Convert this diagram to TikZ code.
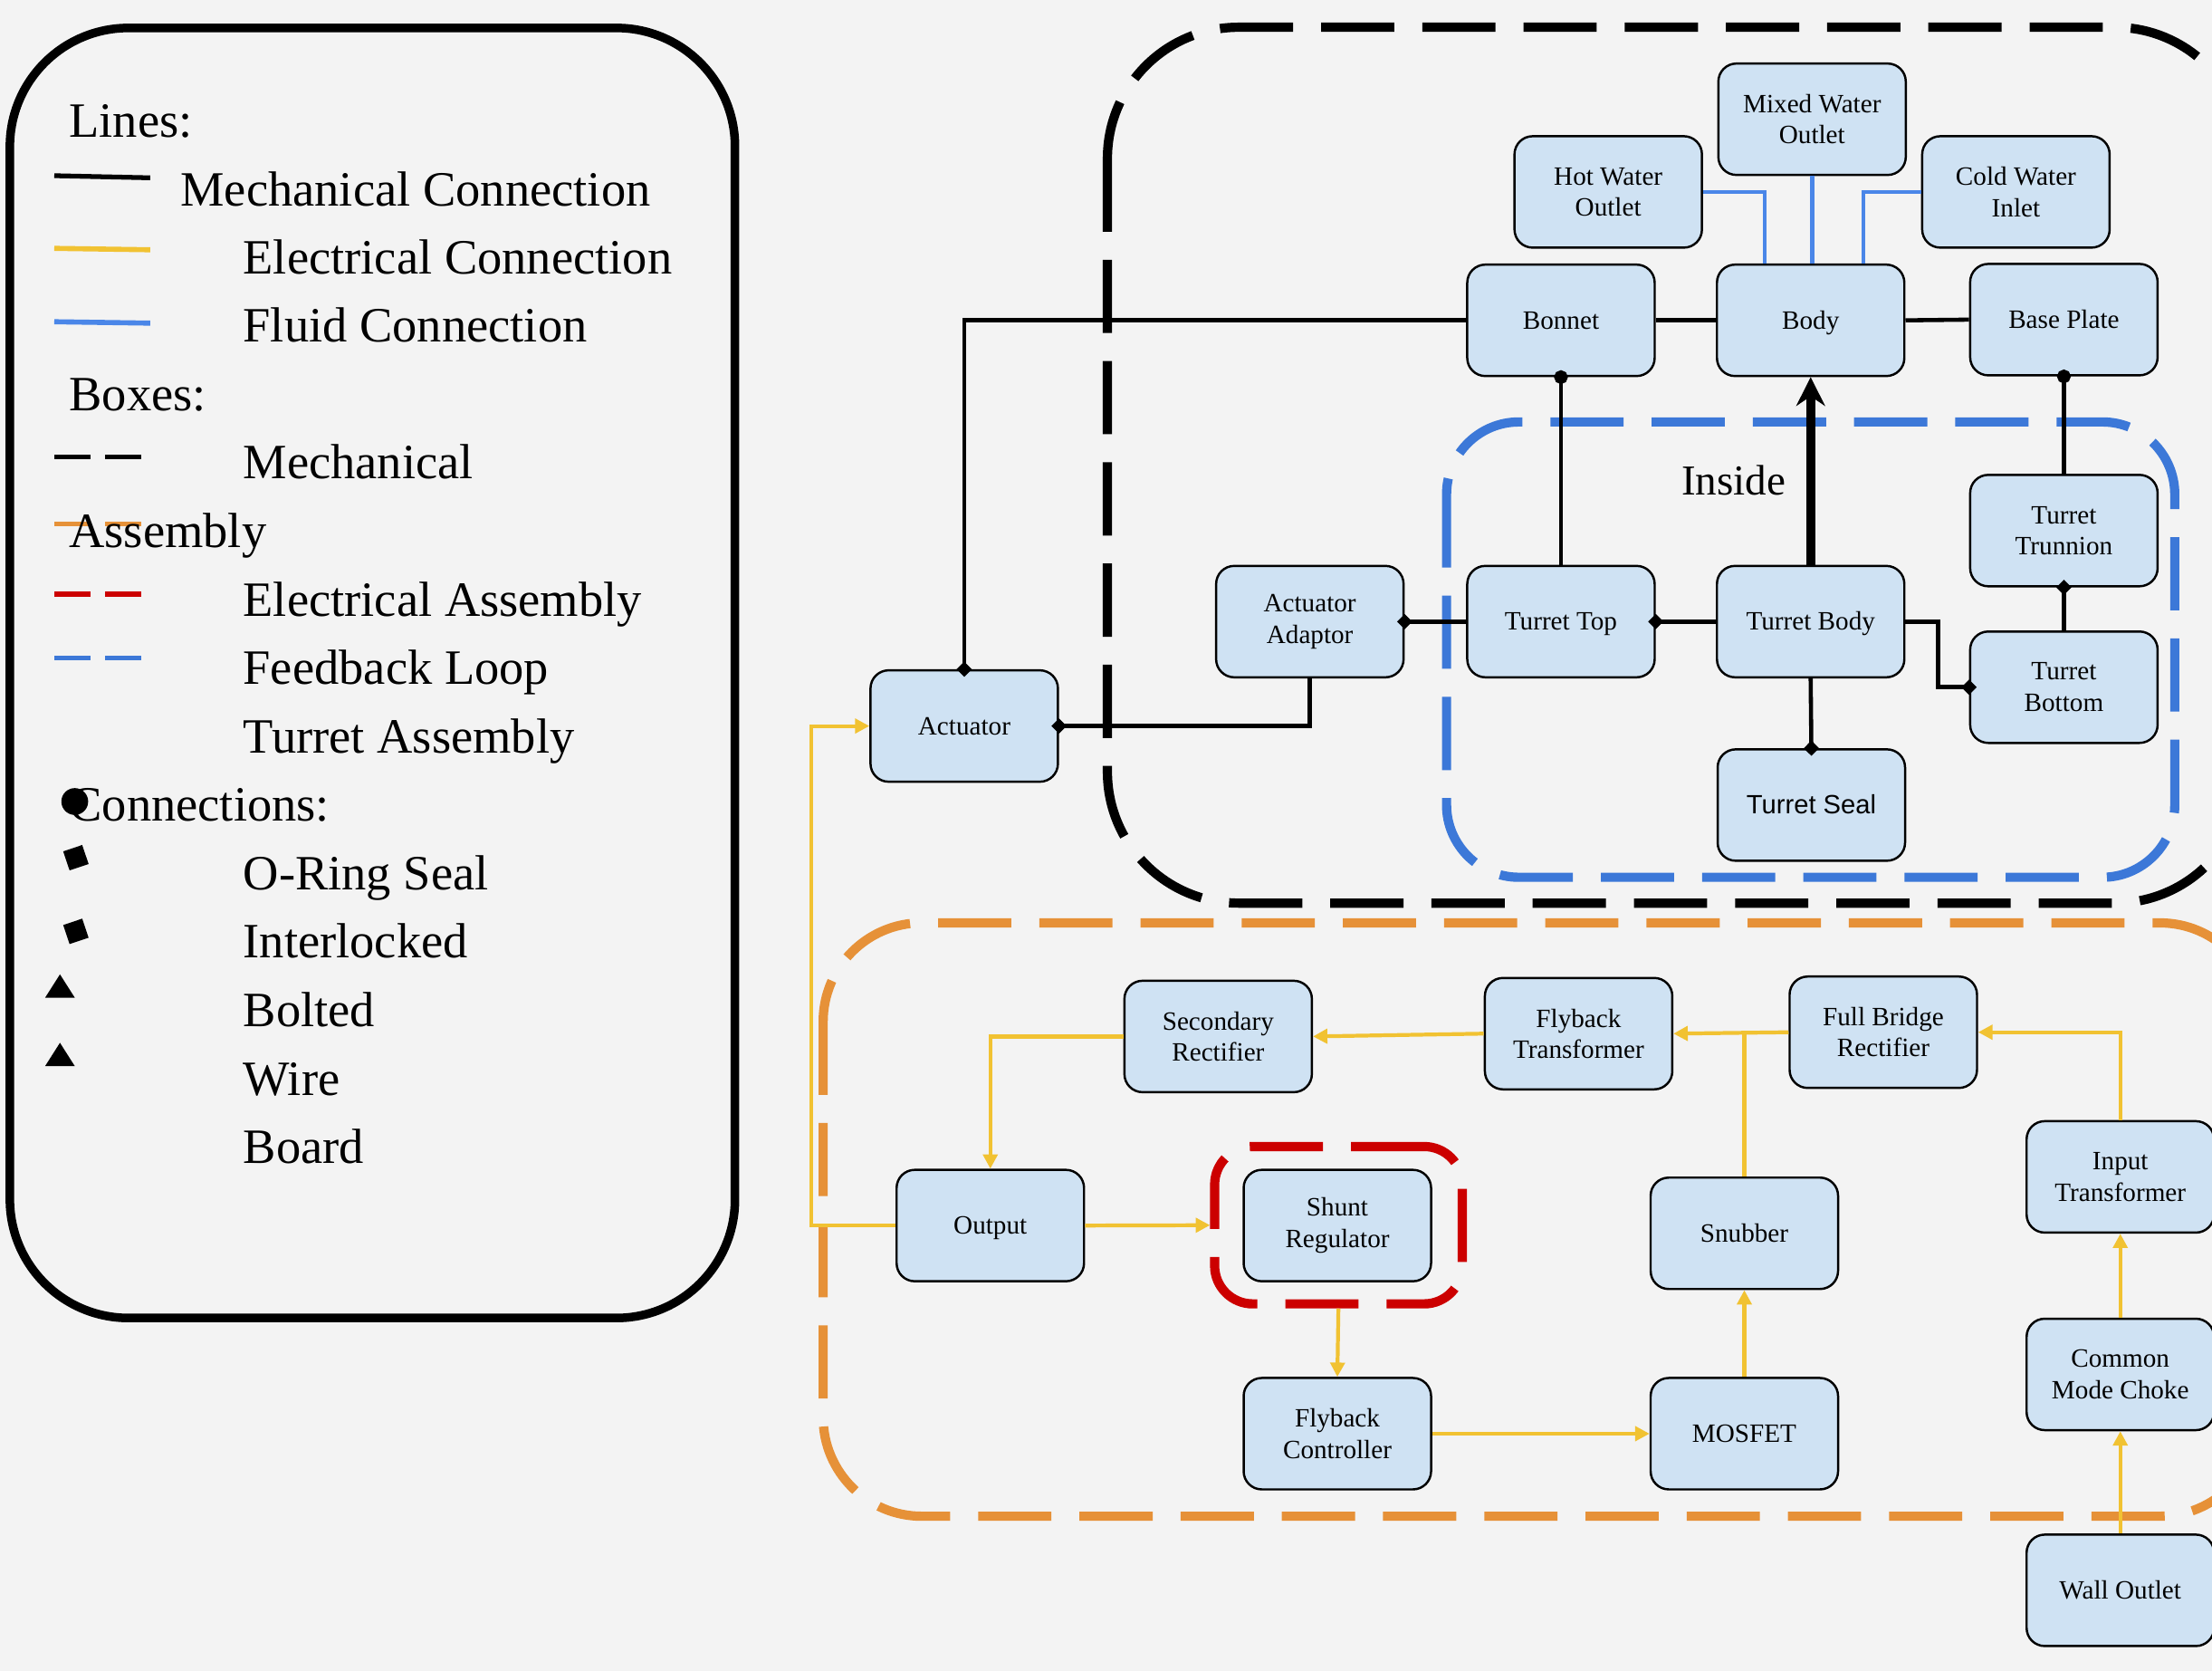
\documentclass[tikz,border=0pt]{standalone}
\usepackage{fontspec}
\setmainfont{Liberation Serif}
\newfontfamily\sansf{Liberation Sans}
\usetikzlibrary{arrows.meta,calc}
\definecolor{bg}{HTML}{F3F3F3}
\definecolor{boxfill}{HTML}{CFE2F3}
\definecolor{fluid}{HTML}{4A86E8}
\definecolor{fbblue}{HTML}{3C78D8}
\definecolor{elec}{HTML}{F1C232}
\definecolor{orng}{HTML}{E69138}
\definecolor{rd}{HTML}{CC0000}
\tikzset{
  dmd/.tip={Diamond[length=4.8pt,width=4.8pt]},
  cdot/.tip={Circle[length=4.3pt]},
  eltip/.tip={Triangle[length=4.5pt,width=4.5pt]},
}
\begin{document}
\begin{tikzpicture}[x=0.01558cm,y=-0.01558cm,
  blk/.style={draw=black, fill=boxfill, rounded corners=0.2cm, line width=0.7pt,
    minimum width=2.07cm, minimum height=1.23cm, inner sep=0pt, align=center,
    font=\fontsize{8.3}{9.8}\selectfont},
  one/.style={text height=6.5pt, text depth=1pt},
  mech/.style={line width=1.3pt, draw=black},
  fl/.style={line width=1.3pt, draw=fluid},
  el/.style={line width=1.2pt, draw=elec, -{eltip}},
  asm/.style={line width=2.9pt, dash pattern=on 23pt off 8.8pt},
  legtext/.style={anchor=base west, inner sep=0pt, font=\fontsize{15.5}{18}\selectfont},
  legdash/.style={line width=1.5pt, dash pattern=on 11.2pt off 4.8pt},
  legsq/.style={fill=black, rectangle, minimum size=6.3pt, inner sep=0pt, rotate=18.5},
]
\useasboundingbox (0,0) rectangle (1568,1184);
\fill[bg] (0,0) rectangle (1568,1184);
\clip (0,0) rectangle (1568,1184);

% ---------- legend ----------
\draw[line width=2.7pt, rounded corners=1.31cm] (7,19.8) rectangle (521,934);
\node[legtext] (lLines) at (48.6,97) {Lines:};
\draw[line width=1.5pt] (38.5,124.5) -- (106.5,126);
\node[legtext] (lMechC) at (127.6,146) {Mechanical Connection};
\draw[line width=1.6pt, elec] (38.5,176) -- (106.5,177);
\node[legtext] (lElecC) at (172,194) {Electrical Connection};
\draw[line width=1.6pt, fluid] (38.5,228) -- (106.5,229);
\node[legtext] (lFluid) at (172,242.5) {Fluid Connection};
\node[legtext] (lBoxes) at (48.6,291) {Boxes:};
\draw[legdash, black] (38.6,324) -- (101,324);
\node[legtext] (lMech) at (172,339.5) {Mechanical};
\draw[legdash, orng] (38.6,371.5) -- (101,371.5);
\node[legtext] (lAsm) at (48.6,388) {Assembly};
\draw[legdash, rd] (38.6,421) -- (101,421);
\node[legtext] (lElecA) at (172,436.5) {Electrical Assembly};
\draw[legdash, fbblue] (38.6,466.5) -- (101,466.5);
\node[legtext] (lFb) at (172,485) {Feedback Loop};
\node[legtext] (lTurret) at (172,533.5) {Turret Assembly};
\node[legtext] (lConn) at (48.6,582) {Connections:};
\fill (53,568) circle[radius=0.148cm];
\node[legsq] (sq1) at (53.8,607.8) {};
\node[legtext] (lOring) at (172,630.5) {O-Ring Seal};
\node[legsq] (sq2) at (53.8,660) {};
\node[legtext] (lInter) at (172,679) {Interlocked};
\fill (32,707) -- (53,707) -- (42.5,690.5) -- cycle;
\node[legtext] (lBolt) at (172,727.5) {Bolted};
\fill (32,755.5) -- (53,755.5) -- (42.5,739) -- cycle;
\node[legtext] (lWire) at (172,776) {Wire};
\node[legtext] (lBoard) at (172,824.5) {Board};

% ---------- assembly boxes ----------
\draw[asm, black, rounded corners=1.45cm] (785,19.3) rectangle (1592,640);
\draw[asm, fbblue, rounded corners=0.8cm] (1025.4,299) rectangle (1541.6,621.7);
\draw[asm, orng, rounded corners=1.09cm] (583.5,654) rectangle (1601,1074.5);
\node[draw=rd, asm, rounded corners=0.42cm, minimum width=2.734cm,
  minimum height=1.737cm, inner sep=0pt] (redbox) at (948.75,868.25) {};
\node[anchor=base, inner sep=0pt, font=\fontsize{13.4}{16}\selectfont] (inside) at (1229,351) {Inside};

% ---------- nodes: mechanical ----------
\node[blk] (mixed) at (1284.5,84.5) {Mixed Water\\Outlet};
\node[blk] (hot) at (1140,136) {Hot Water\\Outlet};
\node[blk] (cold) at (1429,136) {Cold Water\\Inlet};
\node[blk, one] (bonnet) at (1106.5,227) {Bonnet};
\node[blk, one] (body) at (1283.5,227) {Body};
\node[blk, one] (base) at (1463,226.5) {Base Plate};
\node[blk] (trunnion) at (1463,376) {Turret\\Trunnion};
\node[blk] (adaptor) at (928.5,440.5) {Actuator\\Adaptor};
\node[blk, one] (ttop) at (1106.5,440.5) {Turret Top};
\node[blk, one] (tbody) at (1283.5,440.5) {Turret Body};
\node[blk] (tbottom) at (1463,487) {Turret\\Bottom};
\node[blk, one] (actuator) at (683.5,514.5) {Actuator};
\node[blk, one, font=\sansf\fontsize{8.3}{9.8}\selectfont] (tseal) at (1284,570.5) {Turret Seal};

% ---------- nodes: electrical ----------
\node[blk] (secrect) at (863.5,734.5) {Secondary\\Rectifier};
\node[blk] (flyt) at (1119,732.5) {Flyback\\Transformer};
\node[blk] (fbr) at (1335,731.5) {Full Bridge\\Rectifier};
\node[blk] (inputt) at (1503,834) {Input\\Transformer};
\node[blk] (cmc) at (1503,974) {Common\\Mode Choke};
\node[blk, one] (wall) at (1503,1127) {Wall Outlet};
\node[blk, one] (output) at (702,868.5) {Output};
\node[blk] (shunt) at (948,868.5) {Shunt\\Regulator};
\node[blk, one] (snubber) at (1236.5,874) {Snubber};
\node[blk] (flyc) at (948,1016) {Flyback\\Controller};
\node[blk, one] (mosfet) at (1236.5,1016) {MOSFET};

% ---------- mechanical connections ----------
\draw[mech, {dmd}-, shorten <=-2.4pt] (actuator.north) |- (bonnet.west);
\draw[mech] (bonnet.east) -- (body.west);
\draw[mech] (body.east) -- (base.west);
\draw[mech, {cdot}-, shorten <=-2.15pt] (bonnet.south) -- (ttop.north);
\draw[mech, {cdot}-, shorten <=-2.15pt] (base.south) -- (trunnion.north);
\draw[line width=2.9pt, -{Stealth[length=9pt,width=9pt,inset=3pt]}] (tbody.north) -- (body.south);
\draw[mech, {dmd}-, shorten <=-2.4pt] (ttop.east) -- (tbody.west);
\draw[mech, {dmd}-, shorten <=-2.4pt] (adaptor.east) -- (ttop.west);
\draw[mech, -{dmd}, shorten >=-2.4pt] (adaptor.south) |- (actuator.east);
\draw[mech, -{dmd}, shorten >=-2.4pt] (tbody.east) -- ++(23,0) |- (tbottom.west);
\draw[mech, {dmd}-, shorten <=-2.4pt] (trunnion.south) -- (tbottom.north);
\draw[mech, -{dmd}, shorten >=-2.4pt] (tbody.south) -- (tseal.north);

% ---------- fluid connections ----------
\draw[fl] (hot.east) -| ($(body.north)+(-32.5,0)$);
\draw[fl] (mixed.south) -- (mixed.south |- body.north);
\draw[fl] (cold.west) -| ($(body.north)+(37.5,0)$);

% ---------- electrical connections ----------
\draw[el] (output.west) -- ++(-59.5,0) |- (actuator.west);
\draw[el] (secrect.west) -| (output.north);
\draw[el] (flyt.west) -- (secrect.east);
\draw[el] (fbr.west) -- (flyt.east);
\draw[el, -] (snubber.north) -- (snubber.north |- fbr.west);
\draw[el] (inputt.north) |- (fbr.east);
\draw[el] (cmc.north) -- (inputt.south);
\draw[el] (wall.north) -- (cmc.south);
\draw[el] (output.east) -- (redbox.west);
\draw[el] (redbox.south) -- (flyc.north);
\draw[el] (flyc.east) -- (mosfet.west);
\draw[el] (mosfet.north) -- (snubber.south);
\end{tikzpicture}
\end{document}
